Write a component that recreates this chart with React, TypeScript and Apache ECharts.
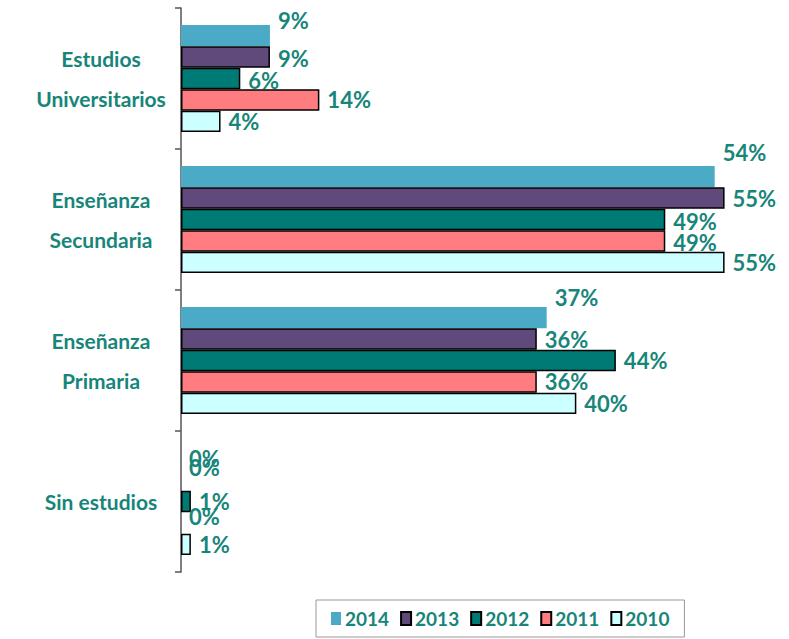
import React, { useEffect, useRef } from "react";
import * as echarts from "echarts";

const categories = ["Estudios\nUniversitarios", "Enseñanza\nSecundaria", "Enseñanza\nPrimaria", "Sin estudios"];
const seriesNames = ["2014", "2013", "2012", "2011", "2010"];
const values2014 = [9, 54, 37, 0];
const values2013 = [9, 55, 36, 0];
const values2012 = [6, 49, 44, 1];
const values2011 = [14, 49, 36, 0];
const values2010 = [4, 55, 40, 1];

const colors = ["#4babc6", "#604a7b", "#007a75", "#ff7c80", "#ccffff"];
const bordered = [false, true, true, true, true];
// vertical label shifts (px) per series, per category, as placed in the reference
const labelShift = [
  [-15, -24, -20, 0],
  [1, 0, 0, -13],
  [2, 2, 0, 0],
  [0, 2, 0, -6],
  [0, 0, 0, 0],
];
const TEAL = "#178579";
const FONT = "Lato, 'DejaVu Sans Condensed', sans-serif";

export default function App() {
  const ref = useRef<HTMLDivElement>(null);
  useEffect(() => {
    if (!ref.current) return;
    const chart = echarts.init(ref.current, null, { renderer: "svg" });
    const data = [values2014, values2013, values2012, values2011, values2010];
    chart.setOption({
      animation: false,
      backgroundColor: "#ffffff",
      grid: { left: 181, top: 8, width: 593, height: 564 },
      xAxis: {
        type: "value",
        min: 0,
        max: 60,
        show: false,
      },
      yAxis: {
        type: "category",
        data: categories,
        inverse: true,
        axisLine: { show: true, lineStyle: { color: "#555", width: 1.5 } },
        axisTick: { show: true, length: 6, lineStyle: { color: "#555", width: 1.5 } },
        axisLabel: {
          color: TEAL,
          fontFamily: FONT,
          fontWeight: "bold",
          fontSize: 21,
          lineHeight: 40,
          align: "center",
          margin: 80,
        },
      },
      legend: {
        data: seriesNames,
        bottom: 2,
        left: 316,
        orient: "horizontal",
        icon: "rect",
        itemWidth: 10,
        itemHeight: 13,
        itemGap: 11,
        padding: [9, 15],
        borderColor: "#999",
        borderWidth: 1,
        textStyle: { color: TEAL, fontFamily: FONT, fontWeight: "bold", fontSize: 19, padding: [0, 0, 0, -1] },
      },
      series: seriesNames.map((name, i) => ({
        name,
        type: "bar",
        data: data[i].map((v, j) => ({
          value: v,
          label: { offset: [0, labelShift[i][j]] },
          itemStyle: v === 0 ? { borderWidth: 0 } : undefined,
        })),
        barGap: "0%",
        barCategoryGap: "24%",
        itemStyle: {
          color: colors[i],
          borderColor: bordered[i] ? "#000" : colors[i],
          borderWidth: bordered[i] ? 1.5 : 0,
        },
        label: {
          show: true,
          position: "right",
          distance: 8,
          formatter: "{c}%",
          color: TEAL,
          fontFamily: FONT,
          fontWeight: "bold",
          fontSize: 22,
        },
      })),
    });
    return () => chart.dispose();
  }, []);
  return <div ref={ref} style={{ position: "fixed", left: 0, top: 0, width: 789, height: 639 }} />;
}
